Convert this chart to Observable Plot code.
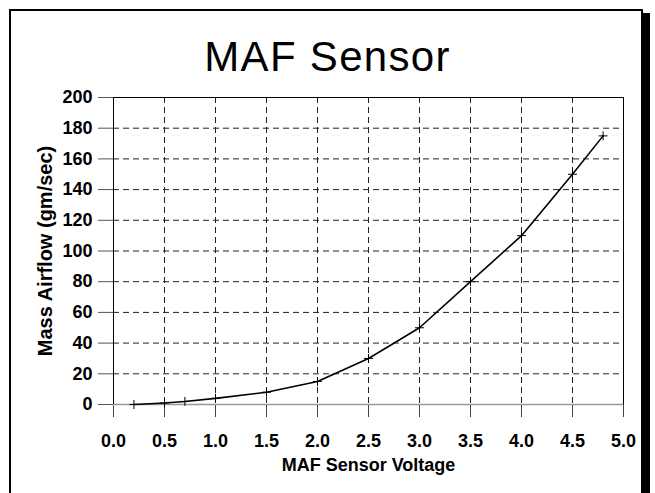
<!DOCTYPE html>
<html>
<head>
<meta charset="utf-8">
<script src="https://cdn.jsdelivr.net/npm/d3@7"></script>
<script src="https://cdn.jsdelivr.net/npm/@observablehq/plot@0.6"></script>
<style>
  html, body { margin: 0; padding: 0; background: #fff; }
  #wrap { position: relative; width: 655px; height: 493px; overflow: hidden; font-family: "Liberation Sans", Arial, sans-serif; }
  #frame { position: absolute; left: 9px; top: 9px; width: 630px; height: 520px; border: 2px solid #000; box-shadow: 7px 4px 0 0 #000; pointer-events: none; z-index: 2; }
  #title { height: 85px; text-align: center; font-size: 42px; line-height: 42px; letter-spacing: 1.3px; box-sizing: border-box; }
  #title span { position: relative; top: 36px; }
  svg { background: transparent !important; overflow: visible; }
</style>
</head>
<body>
<div id="wrap">
  <div id="frame"></div>
  <div id="title"><span>MAF Sensor</span></div>
  <div id="chart"></div>
</div>
<script>
const voltage = [0.2, 0.5, 0.7, 1.0, 1.5, 2.0, 2.5, 3.0, 3.5, 4.0, 4.5, 4.8];
const airflow = [0, 1, 2, 4, 8, 15, 30, 50, 80, 110, 150, 175];
const xTicks = [0, 0.5, 1, 1.5, 2, 2.5, 3, 3.5, 4, 4.5, 5];
const yTicks = [0, 20, 40, 60, 80, 100, 120, 140, 160, 180, 200];
const xGrid = [0.5, 1, 1.5, 2, 2.5, 3, 3.5, 4, 4.5];
const yGrid = [20, 40, 60, 80, 100, 120, 140, 160, 180];
const xLabel = "MAF Sensor Voltage";
const yLabel = "Mass Airflow (gm/sec)";

const data = voltage.map((v, i) => ({v, a: airflow[i]}));

const chart = Plot.plot({
  width: 655,
  height: 408,
  marginTop: 12,
  marginBottom: 89,
  marginLeft: 113,
  marginRight: 32,
  style: {fontFamily: "'Liberation Sans', Arial, sans-serif", background: "transparent", color: "#000", overflow: "visible"},
  x: {domain: [0, 5]},
  y: {domain: [0, 200]},
  marks: [
    Plot.gridX(xGrid, {stroke: "#222", strokeOpacity: 1, strokeDasharray: "6,4", strokeWidth: 1}),
    Plot.gridY(yGrid, {stroke: "#222", strokeOpacity: 1, strokeDasharray: "6,4", strokeWidth: 1}),
    Plot.axisX(xTicks, {tickSize: 13, tickPadding: 17, tickFormat: d3.format(".1f"), fontSize: 18, fontWeight: "bold", stroke: "#444", label: null}),
    Plot.axisY(yTicks, {tickSize: 15, tickPadding: 6, fontSize: 18, fontWeight: "bold", stroke: "#555", label: null}),
    Plot.ruleY([0], {stroke: "#999", strokeWidth: 1.5}),
    Plot.ruleY([200], {stroke: "#000", strokeWidth: 1}),
    Plot.ruleX([0], {stroke: "#000", strokeWidth: 1}),
    Plot.ruleX([5], {stroke: "#000", strokeWidth: 1}),
    Plot.line(data, {x: "v", y: "a", stroke: "#000", strokeWidth: 1.6}),
    Plot.dot(data, {x: "v", y: "a", symbol: "plus", r: 3, stroke: "#000", strokeWidth: 1}),
    Plot.text([xLabel], {frameAnchor: "bottom", dy: 66, fontSize: 18, fontWeight: "bold", fill: "#000"}),
    Plot.text([yLabel], {frameAnchor: "left", dx: -68, rotate: -90, textAnchor: "middle", fontSize: 20, fontWeight: "bold", fill: "#000"})
  ]
});
document.getElementById("chart").appendChild(chart);
</script>
</body>
</html>
